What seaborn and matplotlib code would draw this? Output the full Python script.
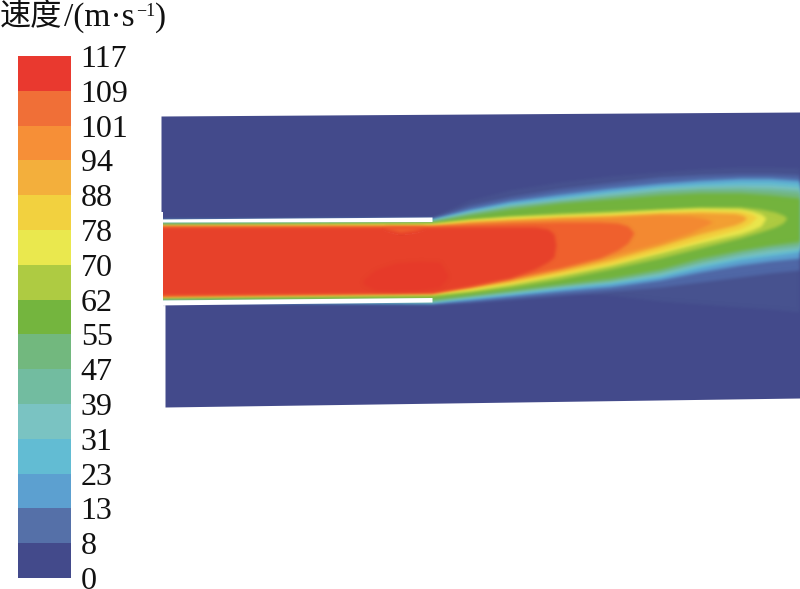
import matplotlib
matplotlib.use('Agg')
import matplotlib.pyplot as plt
from matplotlib.colors import ListedColormap
import numpy as np
import seaborn as sns

# colour bar
bar_labels = [117, 109, 101, 94, 88, 78, 70, 62, 55, 47, 39, 31, 23, 13, 8, 0]
bar_colors = ['#E9392F', '#F06F37', '#F68F37', '#F3AF3C', '#F2D13F', '#EAE84E', '#AECB42', '#74B53E',
              '#72B87E', '#72BCA0', '#7AC3C2', '#62BCD3', '#5CA0D0', '#5570A8', '#434A8B']

# domain outline, y in picture pixels
upper_x = [161, 432, 433, 800]
upper_top = [116, 114.3, 114.3, 112]
upper_bot = [225, 225, 302, 302]
lower_x = [165, 800]
lower_top = [300, 300]
lower_bot = [407, 398]

# walls of the duct
wall_x = [155, 432]
wall_up_top = [219, 217]
wall_up_bot = [222, 221.5]
wall_low_top = [300, 297.5]
wall_low_bot = [305, 302]
inlet_x = [135, 163]
inlet_top = [212, 212]
inlet_bot = [312, 312]

# edges of the velocity bands
st = [150, 432, 470, 510, 560, 610, 660, 700, 740, 770, 800]
top_5 = [219, 217, 200, 190, 182, 176, 172, 169, 167, 167, 168]
bot_5 = [303, 303, 300, 297, 292, 295, 301, 304, 307, 309, 312]
top_8 = [220, 218, 205, 197, 189, 183, 177, 175, 174, 174, 175]
bot_8 = [302, 304, 302, 299, 295, 291, 287, 282, 277, 273, 270]
top_13 = [220, 219, 209, 201, 194, 188, 183, 180, 178, 178, 180]
bot_13 = [301, 303, 300, 296, 291, 287, 280, 272, 265, 261, 258]
top_23 = [221, 220, 211, 203, 197, 191, 186, 183, 181, 181, 183]
bot_23 = [301, 302, 298, 294, 289, 284, 277, 268, 260, 256, 252]
top_31 = [221.5, 220.5, 212, 205, 199, 193, 188, 186, 185, 185, 187]
bot_31 = [300, 301, 297, 293, 287, 282, 275, 265, 257, 253, 249]
top_39 = [222, 221, 213, 206, 200, 195, 190, 188, 187, 188, 190]
bot_39 = [300, 301, 296, 292, 286, 281, 273, 263, 255, 250, 247]
top_47 = [223, 221.5, 214, 207, 202, 197, 192, 190, 190, 191, 193]
bot_47 = [299, 300, 295, 291, 285, 280, 271, 261, 252, 247, 244]
top_55 = [224.5, 222, 215, 209, 203, 199, 195, 193, 193, 195, 198]
bot_55 = [298, 299, 295, 290, 284, 278, 269, 258, 250, 245, 241]

st_62 = [150, 432, 470, 510, 560, 610, 660, 700, 740, 760, 775, 783, 787]
top_62 = [225.5, 223, 219, 216, 213, 211, 209, 207, 207, 209, 212, 215, 218]
bot_62 = [297, 296, 292, 287, 279, 269, 258, 248, 238, 232, 227, 223, 218]
st_70 = [150, 432, 470, 510, 560, 610, 660, 700, 740, 752, 761, 766]
top_70 = [226, 224, 220, 217, 215, 213, 210, 208.5, 209, 211, 214, 218]
bot_70 = [296.5, 294, 290, 284, 275, 265, 253, 243, 234, 230, 226, 218]
st_78 = [150, 432, 470, 510, 560, 610, 660, 700, 740, 750, 757]
top_78 = [226, 225, 221, 218.5, 216.5, 214.5, 212, 210.5, 211, 213, 217]
bot_78 = [296, 293, 289, 283, 274, 264, 251, 240, 229, 224, 217]
st_88 = [150, 432, 470, 510, 560, 610, 660, 700, 735, 742, 747]
top_88 = [226.5, 226, 222, 220, 217.5, 216, 213.5, 212.5, 213.5, 215, 218]
bot_88 = [296, 292, 287, 281, 271, 260, 246, 234, 225, 222, 218]
st_94 = [150, 432, 470, 510, 560, 610, 660, 690, 705, 713]
top_94 = [226.5, 226, 223, 221, 219, 217.5, 215, 216, 218.5, 222]
bot_94 = [295.5, 291, 286, 279, 268, 256, 243, 233, 226, 222]
st_101 = [150, 432, 470, 510, 560, 600, 618, 628, 634]
top_101 = [227, 226.5, 224.5, 223, 222, 222, 223, 226, 233]
bot_101 = [295.5, 292, 286, 278, 268, 258, 250, 243, 233]
st_109 = [150, 432, 470, 510, 535, 548, 554, 556]
top_109 = [227, 227, 227, 227, 227, 229, 234, 245]
bot_109 = [295, 293, 286, 278, 269, 262, 257, 245]

# darker core and the small slower patch under the top wall
core_x = [363, 375, 395, 420, 440, 448]
core_top = [280, 270, 263, 261, 262, 275]
core_bot = [284, 290, 291, 290, 287, 277]
patch_x = [385, 400, 415, 425]
patch_top = [227, 227, 227, 227]
patch_bot = [228, 232, 230, 227]

bands = [
    (st, top_5, bot_5, '#47528F'),
    (st, top_8, bot_8, '#4F69A6'),
    (st, top_13, bot_13, bar_colors[12]),
    (st, top_23, bot_23, bar_colors[11]),
    (st, top_31, bot_31, bar_colors[10]),
    (st, top_39, bot_39, bar_colors[9]),
    (st, top_47, bot_47, bar_colors[8]),
    (st, top_55, bot_55, bar_colors[7]),
    (st_62, top_62, bot_62, bar_colors[6]),
    (st_70, top_70, bot_70, bar_colors[5]),
    (st_78, top_78, bot_78, bar_colors[4]),
    (st_88, top_88, bot_88, '#F59F34'),
    (st_94, top_94, bot_94, '#F58A33'),
    (st_101, top_101, bot_101, '#F0622F'),
    (st_109, top_109, bot_109, '#E8422C'),
    (core_x, core_top, core_bot, '#E63A2B'),
    (patch_x, patch_top, patch_bot, '#F0622F'),
]


def soften(img, dpi):
    # the source picture is a blurry scan: blur only the alpha of each band so its colour stays put
    pad = 6
    out = np.pad(img, ((pad, pad), (pad, pad), (0, 0)))
    rgb = out[:, :, :3][out[:, :, 3] > 0.99]
    if len(rgb):
        out[:, :, :3] = rgb.mean(axis=0)
    kernel = np.array([1, 2, 3, 2, 1]) / 9
    alpha = out[:, :, 3]
    alpha = np.apply_along_axis(np.convolve, 0, alpha, kernel, mode='same')
    alpha = np.apply_along_axis(np.convolve, 1, alpha, kernel, mode='same')
    out[:, :, 3] = alpha
    return out, -pad, -pad


sns.set_theme(style='white')
serif = ['Liberation Serif', 'Noto Sans CJK SC']
ink = '#111111'

fig = plt.figure(figsize=(8, 5.89), dpi=100)
ax = fig.add_axes([0, 0, 1, 1])
ax.set_xlim(0, 800)
ax.set_ylim(589, 0)
ax.axis('off')

dark = bar_colors[-1]
for x, top, bot, col in bands:
    poly = ax.fill_between(x, top, bot, color=col, lw=0, zorder=2)
    poly.set_agg_filter(soften)
ax.fill_between(upper_x, upper_top, upper_bot, color=dark, lw=0, zorder=1)
ax.fill_between(lower_x, lower_top, lower_bot, color=dark, lw=0, zorder=1)
ax.fill_between(wall_x, wall_up_top, wall_up_bot, color='white', lw=0, zorder=3)
ax.fill_between(wall_x, wall_low_top, wall_low_bot, color='white', lw=0, zorder=3)
ax.fill_between(inlet_x, inlet_top, inlet_bot, color='white', lw=0, zorder=3)

# colour bar drawn as a one column heatmap
cax = fig.add_axes([18 / 800, 1 - 578 / 589, 53 / 800, 522 / 589])
cells = np.arange(len(bar_colors)).reshape(-1, 1)
sns.heatmap(cells, cmap=ListedColormap(bar_colors), cbar=False, ax=cax, xticklabels=False)
cax.yaxis.tick_right()
cax.set_yticks(np.arange(len(bar_labels)))
cax.set_yticklabels(bar_labels, rotation=0, family=serif, fontsize=23, color=ink, ha='left')
cax.tick_params(axis='y', length=0, pad=7)

ax.text(0, 18, '速度', family=serif, fontsize=22.5, color=ink, va='center', ha='left')
ax.text(64, 18, '/(m·s', family=serif, fontsize=24, color=ink, va='center', ha='left')
ax.text(136, 11, '−1', family=serif, fontsize=13, color=ink, va='center', ha='left')
ax.text(155, 18, ')', family=serif, fontsize=24, color=ink, va='center', ha='left')

fig.savefig('out.png', dpi=100)
